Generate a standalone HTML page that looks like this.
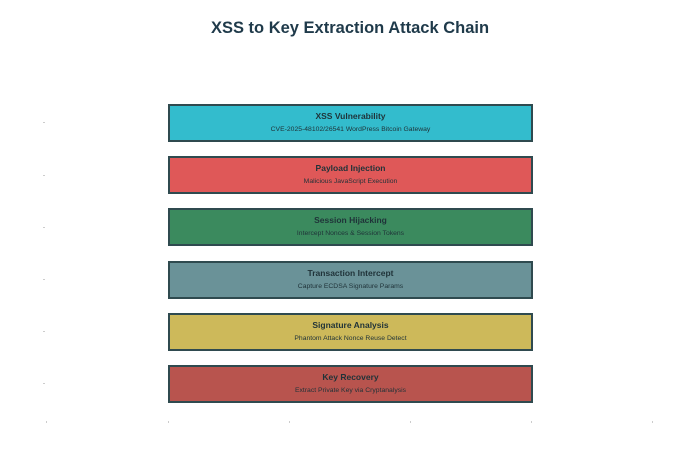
<!DOCTYPE html>
<html><head><meta charset="utf-8"><style>
body{margin:0;width:700px;height:467px;background:#fff;position:relative;font-family:"Liberation Sans",sans-serif;overflow:hidden}
.t{position:absolute;left:0;width:700px;top:19px;text-align:center;font-size:16.5px;font-weight:bold;color:#1f3a4a}
.b{position:absolute;left:168px;width:361px;height:34px;border:2px solid #2f4a4f;text-align:center;color:#1f3238}
.b .h{font-size:8.5px;font-weight:bold;margin-top:5px;line-height:10px}
.b .s{font-size:6.8px;margin-top:5px;line-height:8px}
.k{position:absolute;background:#ccc}
</style></head><body>
<div class="t">XSS to Key Extraction Attack Chain</div>
<div class="b" style="top:104px;background:#33bccd"><div class="h">XSS Vulnerability</div><div class="s">CVE-2025-48102/26541 WordPress Bitcoin Gateway</div></div>
<div class="b" style="top:156px;background:#df5858"><div class="h">Payload Injection</div><div class="s">Malicious JavaScript Execution</div></div>
<div class="b" style="top:208px;background:#3b8a5e"><div class="h">Session Hijacking</div><div class="s">Intercept Nonces &amp; Session Tokens</div></div>
<div class="b" style="top:261px;background:#6a9298"><div class="h">Transaction Intercept</div><div class="s">Capture ECDSA Signature Params</div></div>
<div class="b" style="top:313px;background:#cdb95a"><div class="h">Signature Analysis</div><div class="s">Phantom Attack Nonce Reuse Detect</div></div>
<div class="b" style="top:365px;background:#b8544e"><div class="h">Key Recovery</div><div class="s">Extract Private Key via Cryptanalysis</div></div>
<div class="k" style="left:43px;top:122px;width:2px;height:1px"></div>
<div class="k" style="left:43px;top:175px;width:2px;height:1px"></div>
<div class="k" style="left:43px;top:227px;width:2px;height:1px"></div>
<div class="k" style="left:43px;top:279px;width:2px;height:1px"></div>
<div class="k" style="left:43px;top:331px;width:2px;height:1px"></div>
<div class="k" style="left:43px;top:383px;width:2px;height:1px"></div>
<div class="k" style="left:46px;top:421px;width:1px;height:2px"></div>
<div class="k" style="left:168px;top:421px;width:1px;height:2px"></div>
<div class="k" style="left:289px;top:421px;width:1px;height:2px"></div>
<div class="k" style="left:410px;top:421px;width:1px;height:2px"></div>
<div class="k" style="left:531px;top:421px;width:1px;height:2px"></div>
<div class="k" style="left:652px;top:421px;width:1px;height:2px"></div>
</body></html>
